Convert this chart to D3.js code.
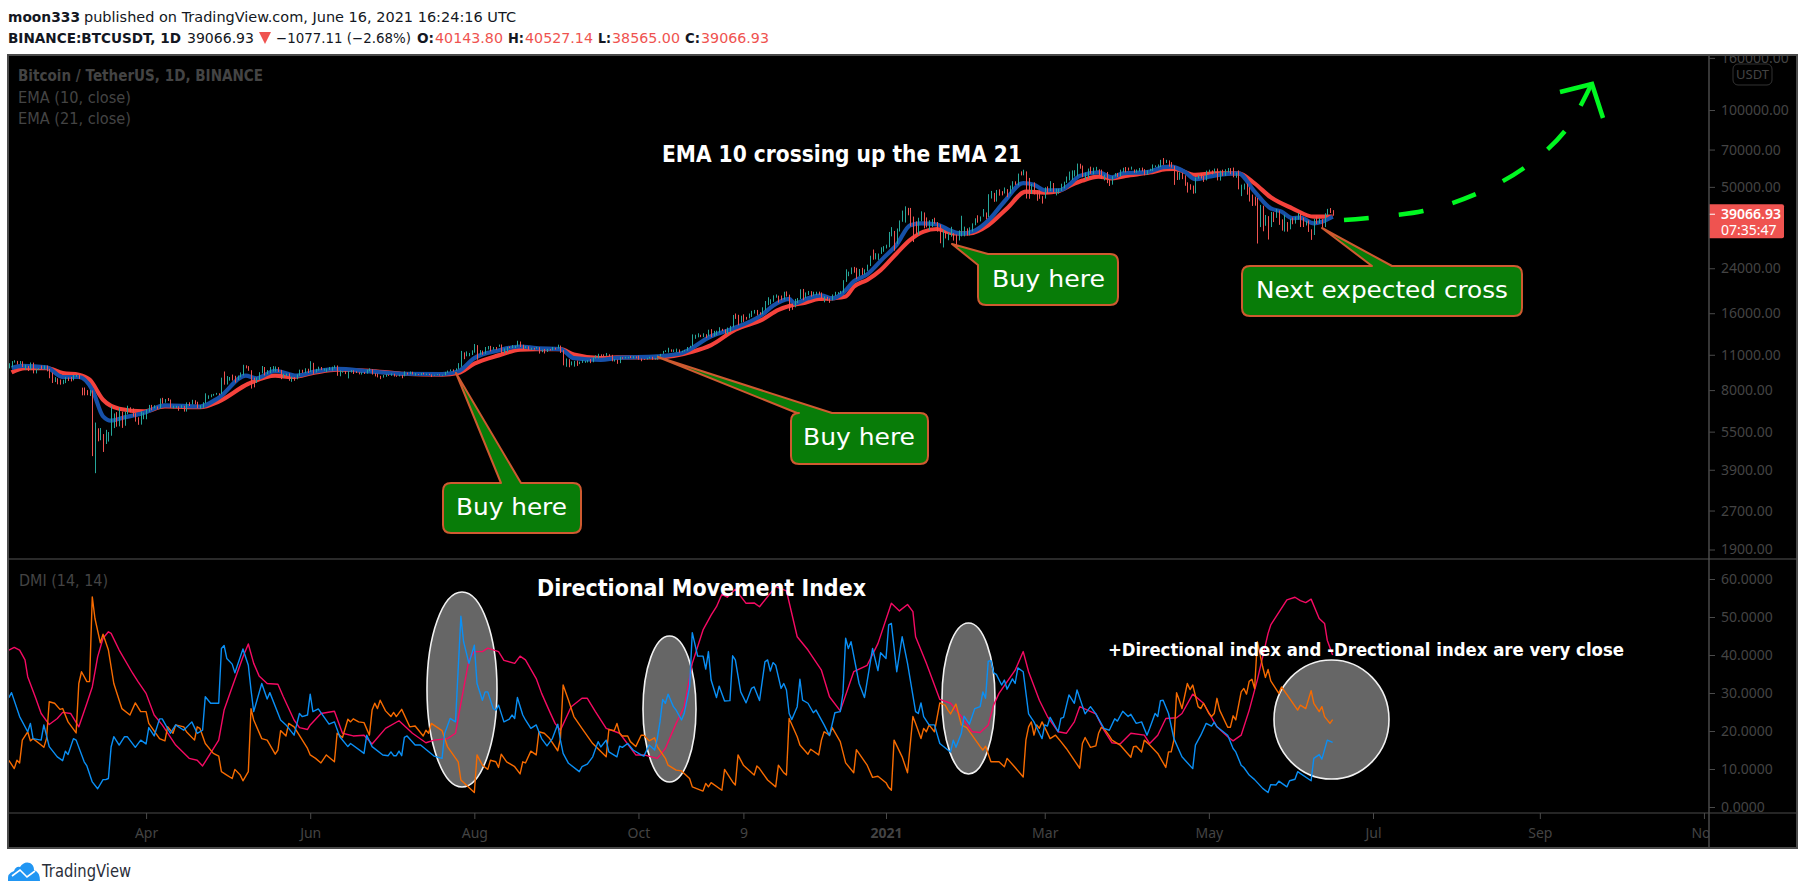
<!DOCTYPE html>
<html><head><meta charset="utf-8">
<script src="https://cdn.jsdelivr.net/npm/d3@7"></script>
<style>html,body{margin:0;padding:0;background:#fff;overflow:hidden}svg{display:block}</style>
</head><body><div id="c"></div>
<script>
// ---------- DATA (daily bars from 2020-02-10 to 2021-06-16) ----------
const closes=[
9855,10150,10360,10240,10340,9900,9930,9700,10180,9600,9610,9690,9660,9960,9670,9310,8790,8800,8670,8530,
8540,8910,8760,8750,9060,9150,8900,8040,7930,7890,7930,4860,5560,5160,5350,5030,5320,5400,6180,6200,5810,6480,5820,6490,6750,6710,6370,6250,5880,6390,6410,
6640,6800,6730,6860,6770,7330,7200,7370,7290,6860,6880,6900,6840,6870,6620,7110,7030,7250,7120,6830,6850,7130,7490,7510,7540,7690,7790,7750,8780,8620,
8830,8970,8900,8880,9030,9150,9990,9810,9540,8720,8560,8810,9310,9790,9310,9380,9670,9730,9780,9510,9060,9170,9180,8720,8900,8840,9200,9580,9420,9700,9450,
10200,9520,9670,9790,9620,9670,9750,9770,9780,9890,9270,9470,9470,9330,9430,9520,9460,9380,9300,9360,9300,9530,9620,9290,9240,9160,9010,9120,9190,9140,
9230,9090,9060,9130,9070,9340,9250,9430,9240,9290,9230,9300,9240,9260,9190,9130,9170,9210,9160,9160,9390,9520,9600,9540,9700,9930,11030,10910,11100,11110,11350,
11800,11070,11230,11190,11750,11770,11600,11760,11680,11880,11400,11580,11780,11770,11770,11860,12300,11970,11730,11850,11520,11680,11650,11750,11330,11460,11320,11530,11470,11710,11650,
11920,11390,10170,10470,10170,10260,10370,10130,10220,10340,10390,10440,10330,10680,10790,10950,10940,10930,11080,10920,10420,10530,10240,10740,10690,10720,10770,10690,10840,10780,
10620,10570,10550,10670,10790,10600,10670,10920,11050,11290,11370,11540,11430,11430,11500,11320,11360,11500,11750,11910,12800,12970,13120,13030,13070,13030,13650,13270,13460,13560,13800,
13760,13550,14020,14150,15590,15580,14830,15480,15330,15300,15700,16290,16320,16070,15960,16720,17660,17800,17820,18650,18680,18400,18370,19150,18730,17150,17130,17720,18180,19700,
18770,19220,19420,18650,19150,19360,19170,18320,18540,18250,18030,18800,19170,19270,19440,21350,22800,23110,23830,23470,22720,23820,23240,23730,24690,26440,26280,27040,27360,28880,28990,
29330,32180,33000,32000,33990,36800,39430,40670,40240,38200,35550,33900,37320,39130,36730,35800,35830,36610,35890,35470,30830,33000,32090,32280,32470,30400,29400,32510,34260,34260,33110,
33530,35500,37660,36950,38290,38900,38830,46400,46500,44840,48000,47400,47230,48700,47940,49130,52120,51170,55900,55840,57400,54100,48900,49700,47000,46300,46100,45140,
49590,48440,50350,48350,48750,48880,50970,52370,54880,55850,57250,57810,61180,59000,55640,56900,58910,57650,58030,58100,57350,54100,54340,52300,51290,55000,55840,55780,57600,58760,58740,
58720,58970,57060,58200,59130,58060,56000,58090,58090,59860,59960,59990,63580,62960,63220,61380,60000,56150,55660,56470,53800,51700,51190,50090,49000,54020,55030,54880,53570,57690,
57800,57160,58940,53300,57170,56400,57350,58860,58280,55860,56750,49500,49680,49840,46760,46430,43560,42900,36720,40530,37280,37530,34770,38800,38320,39240,36680,34650,35680,34600,37280,
36690,37580,39240,36850,35520,35800,33580,33420,37390,36680,37330,35550,39020,40520,40140,39067];
const highs=[
10190,10390,10470,10410,10400,10370,10060,9950,10260,10250,9680,9740,9980,9990,9980,9690,9370,8990,8900,8800,
8780,8990,8960,9000,9170,9190,9180,8180,8190,8000,8000,7970,5970,5670,5680,5380,5590,5480,6900,6480,6560,6830,6590,6590,6950,6850,6780,6500,6260,6600,6530,
6730,7000,7000,6980,6900,7420,7460,7380,7450,7350,6950,6940,6910,6980,6940,7160,7170,7330,7300,7200,6980,7170,7770,7630,7700,7730,7800,7770,8950,9460,
9080,9000,9200,9100,9120,9380,10050,10000,9930,9570,8950,8970,9400,9940,9850,9580,9850,9930,9900,9840,9600,9270,9280,9300,9030,9000,9220,9620,9610,9740,9700,
10380,10230,9690,9880,9850,9720,9730,9850,9880,10000,9990,9550,9490,9500,9500,9580,9560,9480,9400,9400,9410,9620,9730,9660,9310,9280,9100,9170,9230,9200,
9290,9270,9130,9190,9170,9470,9370,9460,9440,9320,9250,9340,9350,9280,9270,9210,9190,9240,9220,9190,9430,9540,9640,9640,9730,10200,11390,11240,11340,11180,11450,
12120,12000,11470,11420,11800,11900,11920,11800,11800,12060,12070,11650,11800,11850,12000,11930,12480,12400,12040,11900,11880,11720,11710,11800,11780,11530,11590,11600,11580,11800,11720,
12050,11950,11460,10640,10570,10360,10410,10440,10340,10480,10410,10480,10580,10750,10940,11100,11040,11040,11180,11050,10990,10570,10530,10800,10760,10800,10800,10870,10870,10850,
10920,10650,10600,10700,10800,10800,10690,10950,11090,11390,11450,11720,11550,11540,11630,11540,11400,11500,11800,11930,13220,13180,13350,13170,13350,13240,13790,13860,13650,13670,14100,
13900,13830,14060,14280,15750,15960,15770,15650,15840,15480,15960,16350,16480,16480,16150,16880,17860,18480,18150,18800,18950,18750,18770,19420,19480,18920,17450,18200,18350,19860,
19920,19300,19560,19520,19420,19420,19440,19300,18630,18560,18290,18950,19410,19350,19570,21560,23770,23280,24170,24300,24100,23840,24100,23770,24790,26870,28420,27500,27410,29000,29300,
29680,33300,34780,33600,34360,36940,40370,41950,41380,41350,38260,36630,37850,40100,39700,37950,37000,37400,37850,36420,35600,33830,33460,33060,34880,32940,32560,33780,38530,34930,34380,
34720,35980,37660,38700,38300,40950,39700,46800,48200,47350,48630,48900,48100,49720,49000,50600,52620,52550,56370,57500,58350,57500,54200,51360,52050,48370,48400,46000,
49800,50200,52640,51770,49200,49200,51450,52400,54900,57400,58000,58100,61700,61600,60600,56900,59000,60000,59500,59900,58600,58400,55800,57200,53200,55100,56600,56700,58400,59400,59800,
59500,60000,58500,58500,59300,59500,58650,58100,58880,61200,60700,61200,63800,64850,63800,63500,62500,60400,57500,57000,56800,55500,52100,51200,50600,54400,55500,56400,55200,57900,
58400,58000,58980,59000,57900,58400,58600,59300,59200,59500,56900,58000,51000,51500,51500,49800,46650,45800,45200,42500,42200,38800,38400,39900,39800,40900,40400,37300,38900,36400,37500,
37900,38200,39500,39300,37900,36800,36900,34100,37500,38400,37700,37400,39400,41000,41300,40527];
const lows=[
9730,9830,10250,10090,10090,9840,9580,9500,9600,9300,9300,9580,9650,9630,9470,8900,8530,8600,8430,8400,
8440,8520,8680,8650,8730,9020,8850,7630,7630,7640,7590,4410,3782,5040,5090,4580,4920,5030,5300,5680,5750,5770,5690,5800,6430,6540,6300,6020,5850,5860,6150,
6150,6580,6670,6790,6750,6770,7080,7140,7250,6820,6780,6800,6640,6800,6590,6590,6930,7030,7040,6800,6750,6810,7100,7390,7500,7600,7670,7640,7720,8400,
8410,8710,8720,8560,8760,8980,9130,9730,9520,8110,8200,8530,8760,9300,9130,9230,9330,9460,9450,9420,8830,8940,9070,8700,8620,8700,8820,9110,9340,9320,9330,
9420,9260,9380,9530,9580,9530,9410,9580,9530,9730,9100,9060,9360,9240,8890,9370,9250,9330,9220,9200,9250,9280,9480,9200,9050,8970,8830,8950,9020,9090,
9100,9040,9020,9050,8900,9060,9200,9230,9210,9120,9200,9150,9200,9160,9160,9000,9140,9160,9130,9120,9140,9350,9470,9460,9530,9660,9870,10570,10850,10860,10980,
11210,10520,11000,11000,11090,11540,11340,11520,11520,11820,11120,11150,11270,11680,11680,11680,11840,11800,11570,11670,11500,11500,11520,11620,11120,11260,11130,11280,11440,11460,11520,
11630,11180,10000,9870,9830,10000,9880,9950,10110,10220,10230,10260,10200,10280,10640,10650,10770,10800,10890,10810,10370,10350,10140,10200,10610,10640,10650,10680,10640,10650,
10520,10380,10510,10530,10630,10520,10530,10530,10830,11100,11280,11220,11300,11280,11260,11210,11250,11340,11410,11720,11890,12700,12880,12900,12900,12800,13000,12900,12990,13120,13430,
13620,13290,13220,13520,14090,15200,14350,14700,14800,15100,15280,15470,15950,15700,15780,15860,16430,17210,17340,17750,18400,17620,18000,18080,18600,16330,16500,16880,17520,18180,
18000,18330,18870,18590,18750,18860,18900,18200,17650,17910,17570,17960,18720,19000,19050,19290,21230,22350,22750,23060,21810,22350,22600,22700,23430,24500,25920,26000,25880,27320,27850,
28700,29000,32000,28130,29900,33430,36490,36230,38700,35000,30400,32500,32400,36700,34400,34700,33850,34800,35850,33400,30070,28950,31400,30900,31900,30800,29240,30840,31990,32000,32200,
32300,33400,35370,36200,36600,38200,37350,38050,45000,43700,43800,46200,46300,47100,45570,47000,48950,50900,50700,55450,55480,45000,44900,47000,46700,44100,44900,43000,
45000,47000,48100,47500,46300,47000,48200,49300,51830,53000,53200,54900,55000,58900,54600,53300,54100,56270,56000,57800,55450,53650,52970,51700,50400,51000,54900,54700,54800,57000,57000,
57900,58400,56800,56800,57500,57500,55500,55700,57680,57700,59800,59400,59800,61000,62000,60000,59500,50900,53200,53300,53600,50500,47500,48700,47000,47200,53900,53900,52300,53000,
57000,56000,56600,53000,52900,55200,55200,56900,56000,54500,54300,48900,46000,48800,46600,43800,42100,42200,30000,34800,33500,35200,31100,34800,36400,37800,35500,33700,33400,33400,34100,
35700,35900,37200,34800,34800,35300,33300,31000,32400,35800,35950,34600,34800,38700,39500,38565];

const ema10Bars=[1,5,14,20,26,31,35,38,42,50,58,71,78,88,92,99,107,114,122,134,146,161,167,173,182,190,196,205,210,220,226,241,250,261,268,280,284,290,292,297,302,306,310,314,319,325,330,335,339,345,350,354,359,364,370,377,381,385,391,394,398,405,410,414,423,429,432,437,441,446,451,457,463,469,473,477,480,485,488,492];
const ema10Vals=[9760,9960,9820,9000,9000,8020,6310,6070,6220,6500,6970,6900,7470,9110,8900,9520,9110,9470,9690,9470,9270,9240,9470,10670,11440,11850,11680,11580,10670,10500,10700,10850,11150,13000,13800,15800,17100,18200,17500,18300,18800,18300,19200,21300,22700,26300,29700,35400,36000,35600,33700,32800,33700,36900,43800,51700,51000,48500,48600,50900,55200,57000,54500,56500,57100,59700,60000,57300,53600,54800,56000,56500,47900,41200,40000,37700,37900,36000,36500,38200];
const ema21Bars=[1,6,14,20,26,30,35,41,50,58,71,78,89,99,105,114,122,134,146,161,167,173,182,190,196,205,210,220,226,241,254,261,270,280,286,291,296,301,306,311,314,319,324,330,335,340,345,351,357,364,371,378,385,390,395,399,405,410,415,424,430,433,441,448,457,463,469,477,485,492];
const ema21Vals=[9380,9760,9760,9330,9190,8790,7330,6760,6600,6900,6860,7220,8470,9110,9000,9380,9610,9520,9270,9190,9330,10150,10940,11510,11580,11580,11020,10670,10750,10750,11300,12000,13800,15100,16500,17200,17600,18200,18300,18600,20300,21600,23600,27500,31000,33400,34200,32900,32900,35400,41200,47900,47500,48100,50900,52900,54800,54000,55200,56900,58600,58800,55700,56500,56500,51600,45500,41200,38200,38200];

const plusDiBars=[0,1,4,7,8,9,12,13,15,18,20,21,22,24,25,28,29,31,33,35,36,37,38,39,41,43,44,47,49,51,52,54,56,57,60,62,65,68,70,72,73,75,78,79,80,81,83,84,87,89,90,91,94,96,97,101,103,106,108,109,111,112,113,115,119,121,123,126,127,132,133,135,139,141,142,143,144,145,146,147,148,151,153,158,161,162,164,166,168,169,171,173,174,176,177,178,180,181,182,184,186,187,188,189,191,192,194,196,198,200,202,204,205,206,208,212,213,215,217,219,220,222,223,226,227,228,230,232,235,236,238,240,241,242,243,244,245,247,248,250,251,253,254,256,258,259,260,261,263,264,266,268,269,270,272,274,276,277,279,281,282,283,284,285,287,288,289,290,291,293,294,295,297,299,300,303,305,307,309,310,311,312,313,316,318,321,323,324,326,327,328,330,332,334,337,338,339,340,342,344,346,349,350,351,352,354,355,357,359,361,362,363,364,365,366,367,369,370,371,373,374,375,377,379,381,383,384,385,386,387,390,391,392,394,396,397,400,402,404,407,409,411,412,414,416,417,419,421,423,424,426,427,428,429,431,433,436,440,441,442,443,445,447,448,449,453,455,456,458,459,461,463,466,468,469,471,472,475,476,478,479,484,485,487,488,490,492];
const plusDiVals=[28.8,30.1,23.8,19.8,22,18,17.6,21.6,15.9,13.2,12.2,14.7,13.8,18,17.6,11.9,10.8,6.6,4.8,7.2,7.2,7.5,15.8,18.5,16.3,18.5,18.5,15.7,17.6,16.6,20.9,18.7,23.2,23.2,19.4,21.6,20.2,22.4,19.4,20.2,29,27.3,27.3,41.7,42.5,39.1,37.6,35.3,41.6,37.3,30.8,25.1,32.5,28.4,30.1,22.9,21.6,18.9,24.6,23.8,24.2,29.7,25.1,25.8,21.8,22.4,18.5,15.9,16.7,14.1,18.9,15.9,13.7,13.5,14.5,13.5,13.5,14.7,13.5,18.3,18.7,16.3,16.3,13.4,12.8,19.4,23.3,22.4,50.2,43.5,37.8,42.6,32.5,28.1,30.3,30.3,25.9,25.5,26.8,22.4,23.1,24.2,23.3,28.8,24.2,22.9,20.7,21.6,18,16.1,18,21.8,17.6,14.1,11.5,9.3,10.6,11.3,13.2,17.2,15.8,17.6,14.5,13.2,16,15.7,16.7,15,13.7,13.4,16.3,15,18,22.4,28.3,27.3,29.7,26.4,25.5,22.9,24.6,31.6,45.9,39.7,39.7,36.3,40.9,33.4,28.8,31.8,27.9,28,39.8,38.7,30.3,27.4,31.2,31.6,28,38.2,38.7,35.8,38,37.3,31.2,32.5,30.8,24.6,23,26.4,33.6,28.1,27.3,24.8,25.5,21.6,18.8,24.8,25.1,29.9,44.4,41.7,43.5,32.5,28.8,41.7,35.9,40.6,39.1,47.9,48.3,35.6,44.8,37.8,25.1,24.6,27.4,23.8,21.6,21.6,16.7,15,14.5,17.6,15.7,19.4,23.9,21.8,25.9,26.4,30.3,28.6,38.4,38.5,35.3,34.9,32.1,33.4,31,33.7,32.5,36.6,35.6,24.5,22.4,19.4,18,21.6,21.3,23.6,19.8,23.3,23.6,29.5,27.3,30.8,24.5,26.4,24.5,20.7,20.2,23.2,22.6,25.2,23.8,24.4,22,22.4,18.9,20.7,24.6,23.8,28,28.1,24.6,18,13.2,10.1,16.3,17.6,18.9,22,21.3,22.3,21.1,18.9,15.4,14.5,11,10.4,8.4,7.2,4.9,3.8,5.9,5.8,6.8,5.3,6.9,7.3,9.3,6.9,12.8,13.8,12.6,17.6,17];

const minusDiBars=[0,2,3,4,5,7,8,9,12,13,14,15,17,19,20,22,25,26,27,29,30,31,32,34,35,37,39,41,42,45,47,49,51,52,56,58,59,61,62,65,66,69,70,71,73,76,78,79,81,83,84,86,87,89,90,91,94,96,99,100,101,103,104,106,111,112,114,116,118,121,122,124,126,127,128,130,132,134,135,136,137,138,140,142,143,144,146,149,151,154,155,156,157,161,163,167,168,173,174,176,178,179,181,182,183,185,188,190,191,192,194,196,197,199,201,204,205,206,208,210,213,217,222,223,225,226,227,228,230,231,233,235,236,238,240,241,244,245,248,250,253,254,258,259,260,261,265,266,269,270,271,273,277,278,279,282,285,286,288,289,290,293,294,297,298,301,302,303,305,306,309,311,314,315,319,321,323,326,327,328,329,332,334,336,337,339,340,341,342,344,346,348,349,350,352,354,356,361,362,363,365,368,370,371,374,377,378,379,380,381,382,383,384,387,389,391,393,398,399,400,402,404,405,406,407,409,410,413,417,418,419,421,422,424,427,430,431,432,433,434,435,436,438,439,440,442,443,444,446,447,448,449,450,453,454,455,456,458,459,460,461,462,463,464,466,467,468,469,472,473,476,479,480,482,484,485,487,488,489,491,492];
const minusDiVals=[12.3,10.1,12.3,11.6,17.6,19.8,17.4,18,16.3,15.7,18,27.7,27.3,25.7,25.9,22.4,19.5,32.5,35.6,33,33,55.3,49.6,43.2,45.5,41.3,32.5,28.1,25.9,24.2,27.4,25.1,25.1,22,18,17.4,21.1,19.4,21.6,21.1,19.8,17.6,21.1,20.7,16.7,14.1,13.4,9.3,8.4,7.5,9.9,8.4,6.9,9.3,25.9,22.9,18,17.6,13.9,15,20.1,18.7,22,21.1,15.4,13.7,12.8,11.6,13.7,11.9,19.4,18.3,23.1,22.4,23.2,22.4,22.2,18.9,25.5,27.3,25.9,28.1,25.3,23.8,24.9,23.8,25.7,21.1,21.3,18.7,20.2,19.4,22,20.1,15.9,11.9,7.1,3.8,13.7,11,9.9,12.3,11.9,10.4,13.9,11.9,10.6,8.7,11.9,11.6,14.7,13.7,19.8,19.4,18,14.8,18,32.1,28.1,23.8,20.7,16.7,13.2,20.4,20.1,22,19.4,18.7,18.7,17.2,15.9,18.9,18.9,17.4,18.2,15.9,12.8,11,9.7,9.5,7.5,5.3,4.2,6.2,5.3,6.4,4.4,9.9,6.6,5.8,13.7,11,8.4,10.8,10.1,7.1,5.3,11,9,8.4,23.3,18.5,16.3,13.9,15.2,13.7,17.6,19.8,18.9,20.9,17.2,11.6,9,15.1,11,7.8,8.1,6.4,5.1,4.4,17.6,13.2,9,23.8,22,18,20.7,19.8,21.6,19.8,27.4,26.8,25.5,24.5,27.1,21.6,20.9,15.9,15,16,11.9,11.9,10.6,12.8,10.4,7.9,17.6,21.1,22.4,18.9,21.6,20.7,22.4,18,18.9,17.2,15.4,10.2,16.7,18.3,15.7,16.1,19.4,20.9,20.7,18.7,17.6,16.3,13.1,15.9,16,14.5,17.6,16.3,14.1,10.4,14.5,14.5,17.6,30.1,28.1,25.9,32.5,30.9,32.1,26.4,25.9,27.3,24.6,23.8,24.6,28.6,25.5,21,21,24,22.9,30.3,31.2,29.7,33.1,33.6,31.2,43.5,36.9,34.1,36.2,33.2,29.9,31.6,28.6,25.5,26.8,25.9,30.6,27.3,25.1,26.4,23.8,22,23];

const adxBars=[0,2,4,6,7,10,12,15,18,20,23,26,29,31,33,35,37,38,41,46,48,51,54,57,62,67,70,72,78,80,83,87,89,91,93,96,100,102,106,108,111,112,116,121,124,128,132,135,140,145,150,155,158,163,166,168,171,173,176,178,182,184,188,190,192,196,198,201,203,205,209,213,215,218,222,227,233,236,241,244,248,251,254,258,261,263,265,267,270,274,277,279,285,289,293,297,302,305,309,314,319,323,328,331,334,336,337,341,346,350,354,358,361,364,366,368,374,377,379,383,386,390,393,396,398,404,407,410,413,417,422,424,427,430,434,436,440,444,449,453,455,458,461,464,468,469,475,478,480,482,484,487,489,490,492];
const adxVals=[41.3,42,41.3,38.7,34.3,28.6,24.6,21.7,23.3,24.9,24.6,21.1,27.3,31.6,39.5,44.4,46.1,45.7,41.3,35.2,33,29.9,24.2,21.6,16.3,12.8,12.3,10.8,17.6,25.5,31.6,39.5,42.9,37.8,34.5,32.5,32.3,29,22.9,20.9,20.4,21.6,24.6,25.2,19.4,18.7,18.9,16.6,20.7,22.7,19.4,16.9,17.6,18,19.4,27.3,38.7,40.9,40.9,41.8,40.9,38.6,37.8,39.7,38.7,33.8,29.9,25.1,22,20.2,26.4,28.6,28.6,25.1,20.7,19.4,13.7,13.7,12.8,15.4,22,26.4,37.8,46.6,50.5,52.7,56,55.2,57.3,53.6,53.7,52.7,58,56.9,44.8,41.3,36,29,25.3,35.6,37.3,43,53.6,51.6,53.3,51.4,44.8,37.8,28.3,27.3,23.8,19.8,19.6,21.6,26.8,29.9,36,40.9,35.6,28.1,23.8,19.8,19.4,22.4,26.4,24.5,20.2,16.9,16.6,19.4,18.9,16.7,18.9,23.3,23.5,24.6,29.7,27.3,21.1,18.5,17.4,18.9,25.5,33.4,45.7,47.9,54.5,55.2,54.3,53.8,54.7,49.6,48.3,43.9,40];

const priceTicks=[160000,100000,70000,50000,24000,16000,11000,8000,5500,3900,2700,1900];
const dmiTicks=[60,50,40,30,20,10,0];
const timeTickDates=["2020-04-01","2020-06-01","2020-08-01","2020-10-01","2020-11-09","2021-01-01","2021-03-01","2021-05-01","2021-07-01","2021-09-01","2021-11-01"];
const timeTickLabels=["Apr","Jun","Aug","Oct","9","2021","Mar","May","Jul","Sep","Nov"];
const lastPrice=39066.93;

// ---------- LAYOUT ----------
const W=1805,H=895;
const F={l:8,t:55,r:1797,b:848,axisX:1709,divY:559,timeY:813};
const FONT='"DejaVu Sans",sans-serif', AXF='"Noto Sans",sans-serif';
const axisCol='#4a4a4a';
const firstDay=Date.UTC(2020,1,10);
const day=i=>new Date(firstDay+i*864e5);
const x=d3.scaleUtc().domain([new Date("2021-01-01"),new Date("2021-07-01")]).range([886,1373]);
const yP=d3.scaleLog().domain([100000,1900]).range([110,549.5]);
const yD=d3.scaleLinear().domain([0,60]).range([807,579]);

const svg=d3.select("#c").append("svg").attr("width",W).attr("height",H).attr("viewBox",`0 0 ${W} ${H}`);
svg.append("rect").attr("width",W).attr("height",H).attr("fill","#fff");
const defs=svg.append("defs");
defs.append("clipPath").attr("id","plot").append("rect").attr("x",F.l).attr("y",F.t).attr("width",F.axisX-F.l).attr("height",F.timeY-F.t);
defs.append("clipPath").attr("id","yclip").append("rect").attr("x",F.axisX).attr("y",F.t).attr("width",F.r-F.axisX).attr("height",F.timeY-F.t);
defs.append("clipPath").attr("id","tclip").append("rect").attr("x",F.l).attr("y",F.timeY).attr("width",F.axisX-F.l).attr("height",F.b-F.timeY);

svg.append("rect").attr("x",F.l).attr("y",F.t).attr("width",F.r-F.l).attr("height",F.b-F.t).attr("fill","#000");

function fitText(g,str,xL,xR,base,size,col,bold,fam){
  return g.append("text").attr("x",xL).attr("y",base).attr("font-family",fam||FONT).attr("font-size",size)
   .attr("font-weight",bold?"bold":"normal").attr("fill",col).attr("textLength",xR-xL).attr("lengthAdjust","spacingAndGlyphs").text(str);
}

// ---------- HEADER ----------
const hdr=svg.append("g");
const HS=14;
fitText(hdr,"moon333",8,80,22,HS,"#131722",true);
fitText(hdr,"published on TradingView.com, June 16, 2021 16:24:16 UTC",84,516,22,HS,"#131722",false);
fitText(hdr,"BINANCE:BTCUSDT, 1D",8,181,43,HS,"#131722",true);
fitText(hdr,"39066.93",187,254,43,HS,"#131722",false);
hdr.append("path").attr("d",d3.line()([[259,32],[271,32],[265,44]])+"Z").attr("fill","#ef5350");
fitText(hdr,"\u22121077.11 (\u22122.68%)",276,411,43,HS,"#131722",false);
[["O:",417,"40143.80",435,503],["H:",508,"40527.14",525,593],["L:",598,"38565.00",612,680],["C:",685,"39066.93",701,769]].forEach(d=>{
  fitText(hdr,d[0],d[1],d[3]-1,43,HS,"#131722",true);
  fitText(hdr,d[2],d[3],d[4],43,HS,"#ef5350",false);
});

// ---------- PLOT ----------
const plot=svg.append("g").attr("clip-path","url(#plot)");

const emaLine=d3.line().x(d=>x(day(d[0]))).y(d=>yP(d[1])).curve(d3.curveMonotoneX);
plot.append("path").datum(d3.zip(ema21Bars,ema21Vals)).attr("d",emaLine).attr("fill","none").attr("stroke","#f5423c").attr("stroke-width",4.2);
plot.append("path").datum(d3.zip(ema10Bars,ema10Vals)).attr("d",emaLine).attr("fill","none").attr("stroke","#1650a8").attr("stroke-width",4.2);

plot.append("g").selectAll("rect").data(d3.range(closes.length)).join("rect")
  .attr("x",i=>Math.round(x(day(i))))
  .attr("width",1)
  .attr("y",i=>yP(highs[i]))
  .attr("height",i=>Math.max(1,yP(lows[i])-yP(highs[i])))
  .attr("fill",i=>closes[i]>=(i?closes[i-1]:closes[i]*0.99)?"#26a69a":"#ef5350");

// ellipses in the DMI pane
[[462,689.5,35,97.5],[669.5,709,26.5,73],[968.5,698.5,26.5,75.5],[1331.5,719.5,57.5,59.5]].forEach(e=>{
  plot.append("ellipse").attr("cx",e[0]).attr("cy",e[1]).attr("rx",e[2]).attr("ry",e[3]).attr("fill","#666").attr("stroke","#f2f2f2").attr("stroke-width",1.6);
});

const dmiLine=d3.line().x(d=>x(day(d[0]))).y(d=>yD(d[1]));
[[adxBars,adxVals,"#f50a63"],[minusDiBars,minusDiVals,"#f76b00"],[plusDiBars,plusDiVals,"#0a8ff5"]].forEach(s=>{
  plot.append("path").datum(d3.zip(s[0],s[1])).attr("d",dmiLine).attr("fill","none").attr("stroke",s[2]).attr("stroke-width",1.4).attr("stroke-linejoin","round");
});

// ---------- CALLOUTS ----------
function callout(box,tip,baseA,baseB,side,label,tx0,tx1,tb,fs){
  const [l,t,r,b]=box,R=8;
  let p=`M${l+R},${t}`;
  if(side==="top"){p+=`L${baseA},${t}L${tip[0]},${tip[1]}L${baseB},${t}`;}
  p+=`L${r-R},${t}Q${r},${t} ${r},${t+R}L${r},${b-R}Q${r},${b} ${r-R},${b}L${l+R},${b}Q${l},${b} ${l},${b-R}L${l},${t+R}Q${l},${t} ${l+R},${t}Z`;
  if(side==="corner"){
    p=`M${baseB},${t}L${r-R},${t}Q${r},${t} ${r},${t+R}L${r},${b-R}Q${r},${b} ${r-R},${b}L${l+R},${b}Q${l},${b} ${l},${b-R}L${l},${baseA}L${tip[0]},${tip[1]}Z`;
  }
  plot.append("path").attr("d",p).attr("fill","#087c08").attr("stroke","#cf5a30").attr("stroke-width",2).attr("stroke-linejoin","round");
  fitText(plot,label,tx0,tx1,tb,fs,"#fff",false);
}
callout([443,483,581,533],[456,373],501,521,"top","Buy here",456,567,515,23.5);
callout([791,413,928,464],[658,357],797,832,"top","Buy here",803,915,445,23.5);
callout([978,254,1118,305],[952,244],265,988,"corner","Buy here",992,1105,287,23.5);
callout([1242,266,1522,316],[1322,228],1372,1392,"top","Next expected cross",1256,1508,298,23.5);

// ---------- TEXT ---------
fitText(plot,"EMA 10 crossing up the EMA 21",662,1022,162,23,"#fff",true);
fitText(plot,"Directional Movement Index",537,866,596,23,"#fff",true);
fitText(plot,"+Directional index and -Drectional index are very close",1108,1624,656,17.5,"#fff",true);
fitText(plot,"Bitcoin / TetherUS, 1D, BINANCE",18,263,81,15,"#444",true);
fitText(plot,"EMA (10, close)",18,131,103,15,"#444",false);
fitText(plot,"EMA (21, close)",18,131,124,15,"#444",false);
fitText(plot,"DMI (14, 14)",19,108,586,15,"#444",false);

// ---------- ARROW ---------
const arrowPts=[[1344,220],[1423,211],[1476,194],[1524,168],[1565,131],[1592,83]];
plot.append("path").attr("d",d3.line().curve(d3.curveCatmullRom)(arrowPts)).attr("fill","none").attr("stroke","#00f821").attr("stroke-width",4.5).attr("stroke-dasharray","25 30");
plot.append("path").attr("d",d3.line()([[1560,92],[1592,84],[1603,118]])).attr("fill","none").attr("stroke","#00f821").attr("stroke-width",4.5);

// ---------- AXES ---------
function styleAxis(g){
  g.select(".domain").remove();
  g.selectAll("line").attr("stroke",axisCol);
  g.selectAll("text").attr("fill","#444").attr("font-family",AXF).attr("font-size",14);
}
const yClip=svg.append("g").attr("clip-path","url(#yclip)");
yClip.append("g").attr("transform",`translate(${F.axisX},0)`)
  .call(d3.axisRight(yP).tickValues(priceTicks).tickFormat(d=>d.toFixed(2)).tickSize(6).tickPadding(6)).call(styleAxis);
yClip.append("g").attr("transform",`translate(${F.axisX},0)`)
  .call(d3.axisRight(yD).tickValues(dmiTicks).tickFormat(d=>d.toFixed(4)).tickSize(6).tickPadding(6)).call(styleAxis);
const tClip=svg.append("g").attr("clip-path","url(#tclip)");
const tDates=timeTickDates.map(d=>new Date(d));
tClip.append("g").attr("transform",`translate(0,${F.timeY})`)
  .call(d3.axisBottom(x).tickValues(tDates).tickFormat((d,i)=>timeTickLabels[i]).tickSize(6).tickPadding(9)).call(styleAxis)
  .selectAll("text").attr("font-weight",(d,i)=>timeTickLabels[i]==="2021"?"bold":"normal");

// USDT badge
svg.append("rect").attr("x",1733).attr("y",64).attr("width",39).attr("height",21).attr("rx",5).attr("fill","#000").attr("stroke","#333");
svg.append("text").attr("x",1752.5).attr("y",79).attr("text-anchor","middle").attr("font-family",AXF).attr("font-size",13).attr("fill","#444").text("USDT");
// Price tag
const tagY=yP(lastPrice);
svg.append("path").attr("d",`M${F.axisX},${tagY-10}h73q2,0 2,2v30q0,2 -2,2h-73Z`).attr("fill","#ef5350");
svg.append("line").attr("x1",F.axisX).attr("x2",F.axisX+6).attr("y1",tagY).attr("y2",tagY).attr("stroke","#fff");
svg.append("text").attr("x",1721).attr("y",tagY+5).attr("font-family",AXF).attr("font-size",14).attr("font-weight",600).attr("fill","#fff").text(lastPrice.toFixed(2));
svg.append("text").attr("x",1721).attr("y",tagY+21).attr("font-family",AXF).attr("font-size",14).attr("fill","#fff").text("07:35:47");

// ---------- FRAME LINES ---------
const gl=svg.append("g").attr("stroke",axisCol);
gl.append("rect").attr("x",F.l).attr("y",F.t).attr("width",F.r-F.l).attr("height",F.b-F.t).attr("fill","none").attr("stroke-width",2);
gl.append("line").attr("x1",F.axisX).attr("x2",F.axisX).attr("y1",F.t).attr("y2",F.b).attr("stroke-width",1.5);
gl.append("line").attr("x1",F.l).attr("x2",F.r).attr("y1",F.divY).attr("y2",F.divY).attr("stroke-width",1.2).attr("stroke","#555");
gl.append("line").attr("x1",F.l).attr("x2",F.r).attr("y1",F.timeY).attr("y2",F.timeY).attr("stroke-width",1.2);

// ---------- LOGO ---------
const logo=svg.append("g");
logo.append("path").attr("d","M8,881 Q7,873 14,871 Q16,866 20,867 Q24,861 30,863 Q34,865 34,870 Q40,872 40,881 Z").attr("fill","#2196f3");
logo.append("path").attr("d",d3.line()([[12,876],[20,870],[27,877],[35,871]])).attr("fill","none").attr("stroke","#fff").attr("stroke-width",1.6);
fitText(logo,"TradingView",42,131,877,17,"#2a2e39",false);
</script></body></html>
